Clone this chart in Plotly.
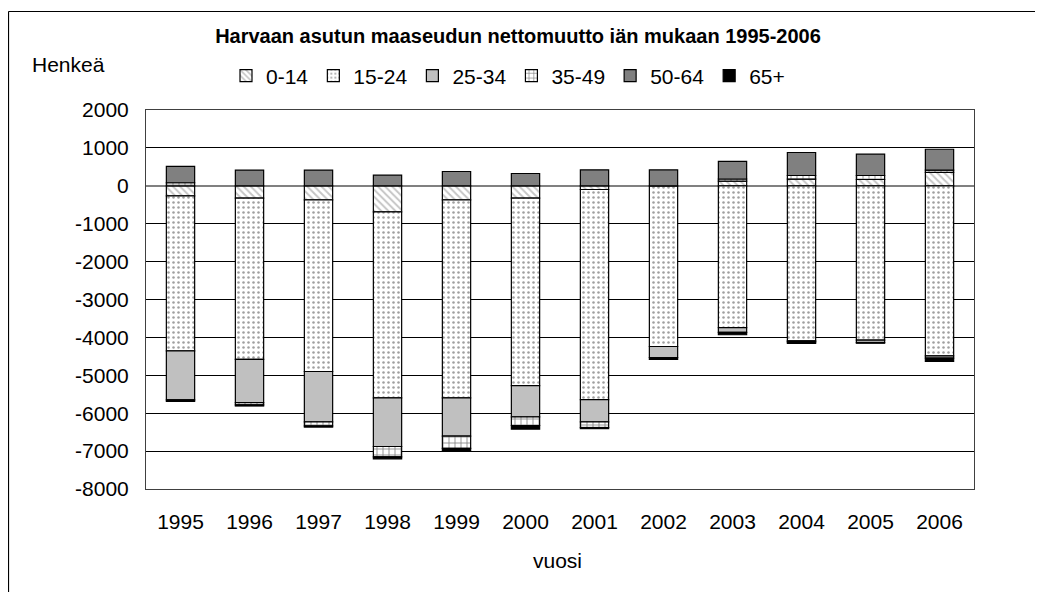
import plotly.graph_objects as go

years = ["1995", "1996", "1997", "1998", "1999", "2000", "2001", "2002", "2003", "2004", "2005", "2006"]
age_0_14 = [-265, -325, -370, -686, -370, -325, -98, 0, 125, 177, 166, 355]
age_15_24 = [-4090, -4255, -4530, -4908, -5224, -4945, -5542, -4240, -3740, -4090, -4072, -4485]
age_25_34 = [-1292, -1140, -1327, -1284, -1011, -825, -587, -290, -130, -30, -62, -61]
age_35_49 = [80, -60, -110, -272, -325, -230, -150, 0, 55, 95, 106, 60]
age_50_64 = [430, 414, 414, 282, 377, 325, 422, 422, 467, 607, 564, 550]
age_65 = [-40, -30, -30, -55, -80, -95, -30, -50, -60, -40, -20, -90]

series_names = ["0-14", "15-24", "25-34", "35-49", "50-64", "65+"]
series_vals = [age_0_14, age_15_24, age_25_34, age_35_49, age_50_64, age_65]

y_tick_vals = [2000, 1000, 0, -1000, -2000, -3000, -4000, -5000, -6000, -7000, -8000]
y_tick_text = ["2000", "1000", "0", "-1000", "-2000", "-3000", "-4000", "-5000", "-6000", "-7000", "-8000"]

FONT = "Liberation Sans, Arial, sans-serif"
FS = 21

styles = [
    dict(color="white", pattern=dict(shape="\\", fgcolor="#8c8c8c", bgcolor="white", size=5, solidity=0.4)),
    dict(color="white", pattern=dict(shape=".", fgcolor="#404040", bgcolor="white", size=5, solidity=0.2)),
    dict(color="#C0C0C0"),
    dict(color="white", pattern=dict(shape="+", fgcolor="#000000", bgcolor="white", size=6, solidity=0.25)),
    dict(color="#808080"),
    dict(color="#000000"),
]

fig = go.Figure()
for name, vals, st in zip(series_names, series_vals, styles):
    marker = dict(line=dict(color="black", width=1.2))
    marker.update(st)
    fig.add_trace(go.Bar(x=years, y=vals, name=name, marker=marker))

# page body has an 8px margin; work in reference pixel coordinates and shift
OFF = 8
W, H = 1043 - OFF, 592 - OFF
L, R, T, B = 146 - OFF, 974 - OFF, 110 - OFF, 489 - OFF
pw, ph = R - L, B - T

def px_x(x):
    return (x - OFF - L) / pw

def px_y(y):
    return (B - (y - OFF)) / ph

fig.update_layout(
    width=W, height=H, autosize=False,
    margin=dict(l=L, r=W - R, t=T, b=H - B, pad=0),
    barmode="relative",
    bargap=0.59,
    plot_bgcolor="white", paper_bgcolor="white",
    font=dict(family=FONT, size=FS, color="black"),
    title=dict(text="<b>Harvaan asutun maaseudun nettomuutto iän mukaan 1995-2006</b>",
               x=(518 - OFF) / W, xanchor="center", y=1 - (36 - OFF) / H, yanchor="middle",
               font=dict(family=FONT, size=20, color="black")),
    legend=dict(orientation="h", x=px_x(508), xanchor="center", y=px_y(76), yanchor="middle",
                font=dict(family=FONT, size=FS, color="black"),
                itemwidth=30, tracegroupgap=0, bgcolor="rgba(0,0,0,0)"),
    showlegend=True,
)

fig.update_xaxes(
    showgrid=False, showline=True, linecolor="#404040", linewidth=1, mirror=True,
    ticks="", ticklabelstandoff=14, tickfont=dict(family=FONT, size=FS, color="black"),
)
fig.update_yaxes(
    range=[-8000, 2000], tickmode="array", tickvals=y_tick_vals, ticktext=y_tick_text,
    showgrid=True, gridcolor="black", gridwidth=1,
    zeroline=True, zerolinecolor="#808080", zerolinewidth=1.5,
    showline=True, linecolor="#404040", linewidth=1, mirror=True,
    ticks="", ticklabelstandoff=12, tickfont=dict(family=FONT, size=FS, color="black"),
)

fig.add_annotation(text="Henkeä", xref="paper", yref="paper", x=px_x(30), y=px_y(64.5),
                   xanchor="left", yanchor="middle", showarrow=False,
                   font=dict(family=FONT, size=FS, color="black"))
fig.add_annotation(text="vuosi", xref="paper", yref="paper", x=px_x(557), y=px_y(560),
                   xanchor="center", yanchor="middle", showarrow=False,
                   font=dict(family=FONT, size=FS, color="black"))

# outer chart border (top and left visible)
fig.add_shape(type="line", xref="paper", yref="paper", x0=px_x(8.5), x1=px_x(1100), y0=px_y(11.5), y1=px_y(11.5),
              line=dict(color="black", width=1.2))
fig.add_shape(type="line", xref="paper", yref="paper", x0=px_x(8.5), x1=px_x(8.5), y0=px_y(11.5), y1=px_y(650),
              line=dict(color="black", width=1.2))

fig.write_html("out.html")
